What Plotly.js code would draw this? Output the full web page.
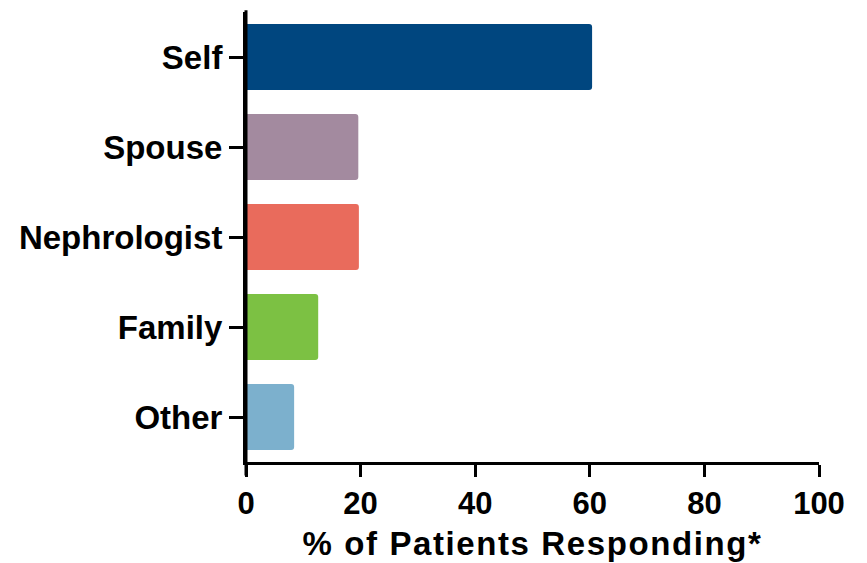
<!DOCTYPE html>
<html>
<head>
<meta charset="utf-8">
<script src="https://cdn.plot.ly/plotly-3.0.1.min.js"></script>
<style>
html, body { margin: 0; padding: 0; background: #fff; }
#chart { width: 867px; height: 563px; }
.xtitle { letter-spacing: 1.6px; }
</style>
</head>
<body>
<div id="chart"></div>
<script>
const categories = ["Self", "Spouse", "Nephrologist", "Family", "Other"];
const values = [60.4, 19.6, 19.7, 12.6, 8.4];
const barColors = ["#00467f", "#a38a9f", "#e96b5c", "#7cc143", "#7cb0cd"];
const xTickVals = [0, 20, 40, 60, 80, 100];
const xTitle = "% of Patients Responding*";

const fontFamily = "Liberation Sans, Arial, Helvetica, sans-serif";

const trace = {
  type: "bar",
  orientation: "h",
  x: values,
  y: categories,
  marker: { color: barColors, cornerradius: 3, line: { width: 0 } },
  hoverinfo: "x+y"
};

const layout = {
  width: 867,
  height: 563,
  margin: { l: 246, r: 48, t: 12, b: 101 },
  paper_bgcolor: "#ffffff",
  plot_bgcolor: "#ffffff",
  showlegend: false,
  bargap: 0.267,
  font: { family: fontFamily, color: "#000000" },
  xaxis: {
    range: [0, 100],
    tickvals: xTickVals,
    ticktext: xTickVals.map(String),
    ticks: "outside",
    ticklen: 12,
    tickwidth: 3,
    tickcolor: "#000",
    showline: true,
    linewidth: 3,
    linecolor: "#000",
    showgrid: false,
    zeroline: false,
    tickfont: { family: fontFamily, size: 31, weight: 700, color: "#000" },
    title: { text: xTitle, font: { family: fontFamily, size: 33, weight: 700, color: "#000" }, standoff: 12 },
    fixedrange: true
  },
  yaxis: {
    type: "category",
    categoryorder: "array",
    categoryarray: categories,
    range: [4.5, -0.5],
    ticks: "outside",
    ticklen: 14,
    tickwidth: 3,
    tickcolor: "#000",
    showline: true,
    linewidth: 3,
    linecolor: "#000",
    showgrid: false,
    zeroline: false,
    tickfont: { family: fontFamily, size: 33, weight: 700, color: "#000" },
    fixedrange: true
  },
  shapes: [
    { type: "line", xref: "paper", yref: "paper", x0: 0, x1: 0, y0: -0.03, y1: 1.004,
      line: { color: "#000", width: 3 } }
  ]
};

Plotly.newPlot("chart", [trace], layout, { displayModeBar: false, staticPlot: true });
</script>
</body>
</html>
